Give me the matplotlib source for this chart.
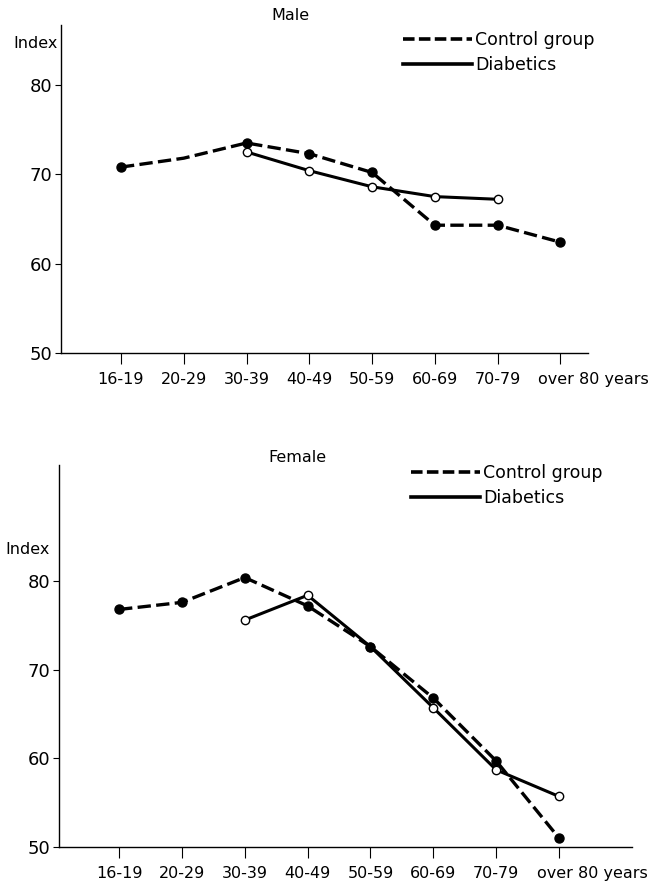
import matplotlib
matplotlib.use("Agg")
import matplotlib.pyplot as plt
from matplotlib.lines import Line2D
from matplotlib.transforms import blended_transform_factory

plt.rcParams["font.family"] = ["DejaVu Sans"]

age_groups = ["16-19", "20-29", "30-39", "40-49", "50-59", "60-69", "70-79", "over 80 years"]
positions = [1, 2, 3, 4, 5, 6, 7, 8]

# male
male_control = [70.8, 71.8, 73.5, 72.3, 70.2, 64.3, 64.3, 62.4]
male_control_marked = [0, 2, 3, 4, 5, 6, 7]  # no dot at 20-29
male_diab_pos = [3, 4, 5, 6, 7]
male_diab = [72.5, 70.4, 68.6, 67.5, 67.2]

# female
female_control = [76.8, 77.6, 80.4, 77.2, 72.6, 66.8, 59.7, 51.0]
female_diab_pos = [3, 4, 5, 6, 7, 8]
female_diab = [75.6, 78.4, 72.6, 65.7, 58.7, 55.7]

yticks = [50, 60, 70, 80]
DASH = (0, (4.0, 1.6))


def draw_panel(ax, control, control_marks, diab_pos, diab, top, xmax, label_y):
    ax.plot(diab_pos, diab, color="black", lw=2.2, marker="o", ms=6,
            mfc="white", mec="black", mew=1.0, zorder=3)
    ax.plot(positions, control, color="black", lw=2.4, ls=DASH, marker="o",
            ms=6.5, mfc="black", mec="black", markevery=control_marks, zorder=4)
    ax.set_xlim(0.045, xmax)
    ax.set_ylim(50, top)
    ax.set_yticks(yticks)
    ax.set_xticks(positions)
    # last label ("over 80 years") is shifted right of its tick, as in the original
    ax.set_xticklabels(age_groups[:-1] + [""], fontsize=11.5)
    trans = blended_transform_factory(ax.transData, ax.transAxes)
    ax.text(7.65, label_y, age_groups[-1], transform=trans, ha="left", va="top",
            fontsize=11.5)
    ax.tick_params(axis="y", direction="out", length=4, width=0.8, labelsize=13, pad=2)
    ax.tick_params(axis="x", direction="out", length=8, width=0.8, pad=6)
    for s in ["top", "right"]:
        ax.spines[s].set_visible(False)
    for s in ["left", "bottom"]:
        ax.spines[s].set_linewidth(1.0)


def add_legend(ax, anchor):
    handles = [Line2D([], [], color="black", lw=2.6, ls=(0, (3.2, 1.2))),
               Line2D([], [], color="black", lw=2.6)]
    ax.legend(handles, ["Control group", "Diabetics"], loc="upper left",
              bbox_to_anchor=anchor, bbox_transform=ax.figure.transFigure,
              frameon=False, fontsize=12.5, handlelength=4.0, handletextpad=0.15,
              labelspacing=0.42, borderpad=0, borderaxespad=0)


fig = plt.figure(figsize=(6.67, 8.83), dpi=100)
ax1 = fig.add_axes([0.0915, 0.6002, 0.790, 0.3715])
ax2 = fig.add_axes([0.0885, 0.0408, 0.859, 0.4326])

draw_panel(ax1, male_control, male_control_marked, male_diab_pos, male_diab, 86.7, 8.44,
           -0.059)
draw_panel(ax2, female_control, None, female_diab_pos, female_diab, 93.1, 9.16, -0.051)

add_legend(ax1, (403 / 667, 1 - 31 / 883))
add_legend(ax2, (411 / 667, 1 - 464 / 883))

fig.text(290 / 667, 1 - 15 / 883, "Male", ha="center", va="center", fontsize=11.5)
fig.text(297 / 667, 1 - 458 / 883, "Female", ha="center", va="center", fontsize=11.5)
fig.text(58 / 667, 1 - 43 / 883, "Index", ha="right", va="center", fontsize=11.5)
fig.text(5 / 667, 1 - 550 / 883, "Index", ha="left", va="center", fontsize=11.5)

fig.savefig("out.png", dpi=100)
